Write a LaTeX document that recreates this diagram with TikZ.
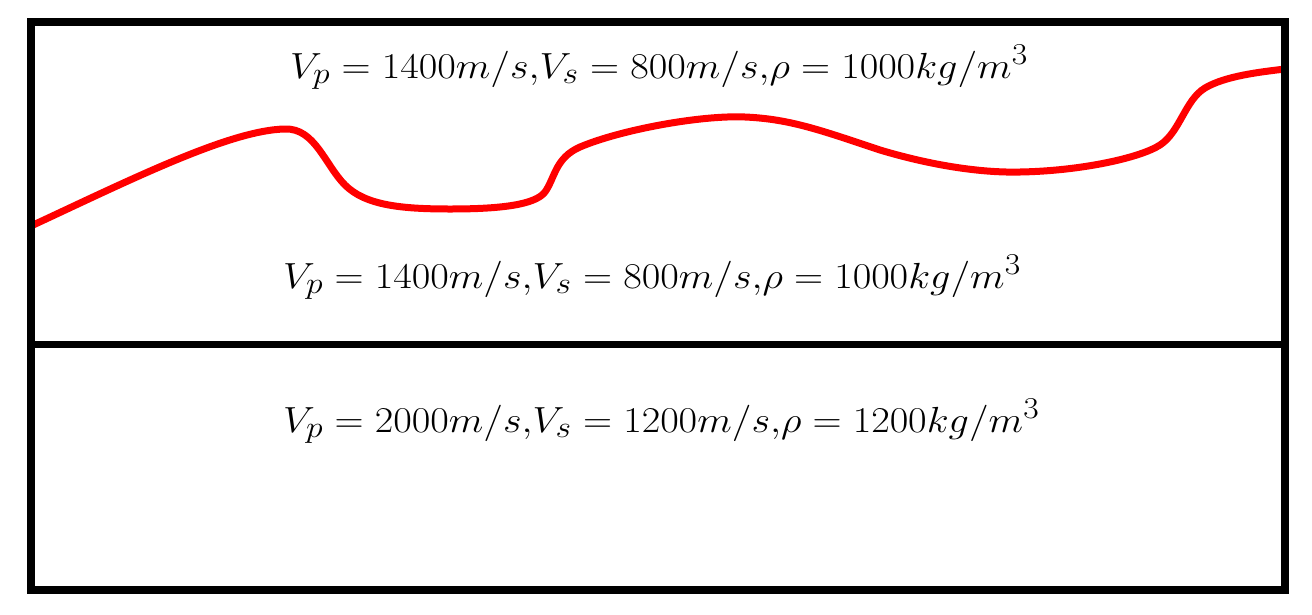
\documentclass[tikz,border=0pt]{standalone}
\newcommand{\bigtxt}[1]{\scalebox{1.62}[1.46]{#1}}
\begin{document}
\begin{tikzpicture}[x=1pt,y=-1pt,
  frame/.style={line width=7.5pt,draw=black},
  iface/.style={line width=7pt,draw=red,line cap=round},
  lbl/.style={anchor=base west,inner sep=0pt,font=\Huge}]
\useasboundingbox (0,0) rectangle (1312,614);
% interface curve
\draw[iface] (31,226) .. controls (130,180) and (230,130) .. (285,129)
  .. controls (315,128) and (325,165) .. (345,185)
  .. controls (365,205) and (400,209) .. (450,209)
  .. controls (500,209) and (535,205) .. (545,192)
  .. controls (555,178) and (555,158) .. (580,147)
  .. controls (620,130) and (700,115) .. (745,117)
  .. controls (790,119) and (820,130) .. (880,150)
  .. controls (930,165) and (980,173) .. (1020,172)
  .. controls (1080,171) and (1140,158) .. (1160,145)
  .. controls (1180,132) and (1185,100) .. (1205,88)
  .. controls (1225,76) and (1260,72) .. (1285,69);
% frame
\draw[frame] (31,22) rectangle (1285,590);
\coordinate (dl) at (31,344.5);
\coordinate (dr) at (1285,344.5);
\draw[frame] (dl) -- (dr);
% labels
\node[lbl] (t1) at (290,78) {\bigtxt{$V_p = 1400m/s{,}V_s = 800m/s{,}\rho = 1000kg/m^3$}};
\node[lbl] (t2) at (283,288) {\bigtxt{$V_p = 1400m/s{,}V_s = 800m/s{,}\rho = 1000kg/m^3$}};
\node[lbl] (t3) at (283,432) {\bigtxt{$V_p = 2000m/s{,}V_s = 1200m/s{,}\rho = 1200kg/m^3$}};
\end{tikzpicture}
\end{document}
